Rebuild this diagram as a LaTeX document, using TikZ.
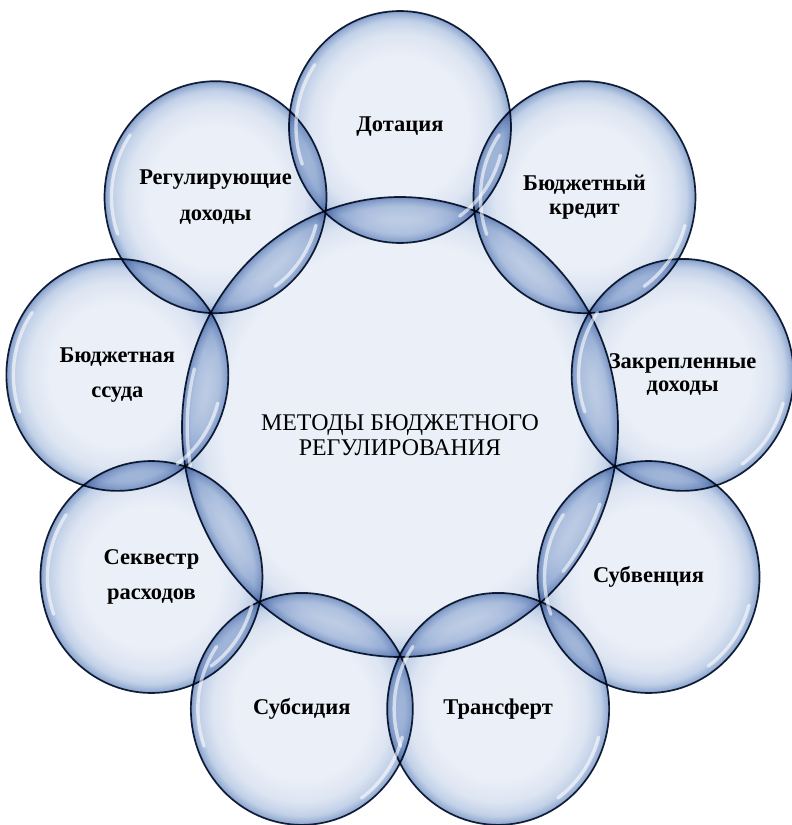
\documentclass[tikz,border=0pt]{standalone}
\usepackage{fontspec}
\setmainfont{Liberation Serif}
\usetikzlibrary{shapes.geometric}
\definecolor{bubblein}{HTML}{EBF0F8}
\definecolor{bubblesoft}{HTML}{DDE5F2}
\definecolor{bubblemid}{HTML}{C2D1E8}
\definecolor{bubbleout}{HTML}{98AFD4}
\definecolor{bubbleedge}{HTML}{7B96C2}
\definecolor{bubbleline}{HTML}{17253E}
\pgfdeclareradialshading{bubble}{\pgfpoint{0bp}{0bp}}{color(0bp)=(bubblein); color(15bp)=(bubblein); color(20bp)=(bubblesoft); color(23bp)=(bubblemid); color(24.5bp)=(bubbleout); color(25bp)=(bubbleedge); color(50bp)=(bubbleedge)}
\pgfdeclareradialshading{hubshade}{\pgfpoint{0bp}{0bp}}{color(0bp)=(bubblein); color(20bp)=(bubblein); color(22.5bp)=(bubblesoft); color(24bp)=(bubblemid); color(24.7bp)=(bubbleout); color(25bp)=(bubbleedge); color(50bp)=(bubbleedge)}
\tikzset{
  hub/.style = {ellipse, minimum width=10.9cm, minimum height=11.5cm, inner sep=0pt, outer sep=0pt, shading=hubshade, draw=bubbleline, line width=1.2pt},
  headline/.style = {align=center, font=\fontsize{17}{17.5}\selectfont},
  method/.style = {ellipse, minimum width=5.55cm, minimum height=5.8cm, inner sep=0pt, outer sep=0pt, shading=bubble, draw=bubbleline, line width=1.2pt, align=center},
  gloss/.style = {white, line width=2.4pt, line cap=round, opacity=0.6}
}
\begin{document}
\begin{tikzpicture}
\useasboundingbox (-10cm,-9.95cm) rectangle (9.8cm,10.675cm);

\begin{scope}[blend mode=multiply]
\node (hub) [hub] at (0,0) {};
\foreach \a/\n/\t/\s in {90/dotation/{Дотация}/20,
                         50/credit/{Бюджетный\\кредит}/17,
                         10/fixed/{Закрепленные\\доходы}/16.5,
                         -30/subvention/{Субвенция}/20,
                         -70/transfer/{Трансферт}/20,
                         -110/subsidy/{Субсидия}/20,
                         -150/sequester/{Секвестр\\расходов}/25,
                         170/loan/{Бюджетная\\ссуда}/25,
                         130/regulating/{Регулирующие\\доходы}/26}
  \node (\n) [method, font=\bfseries\fontsize{16}{\s}\selectfont] at (\a:7.175cm and 7.5cm) {\t};
\end{scope}

% glints
\foreach \n in {dotation,credit,fixed,subvention,transfer,subsidy,sequester,loan,regulating} {
  \draw[gloss] (\n.center) ++(145:2.6cm and 2.72cm) arc[start angle=145, end angle=200, x radius=2.6cm, y radius=2.72cm];
  \draw[gloss] (\n.center) ++(-15:2.6cm and 2.72cm) arc[start angle=-15, end angle=-55, x radius=2.6cm, y radius=2.72cm];
}
\draw[gloss] (hub.center) ++(165:5.32cm and 5.62cm) arc[start angle=165, end angle=190, x radius=5.32cm, y radius=5.62cm];
\draw[gloss] (hub.center) ++(-20:5.32cm and 5.62cm) arc[start angle=-20, end angle=-40, x radius=5.32cm, y radius=5.62cm];

\node (title) [headline] at ([yshift=-0.2cm]hub.center) {МЕТОДЫ БЮДЖЕТНОГО\\РЕГУЛИРОВАНИЯ};
\end{tikzpicture}
\end{document}
